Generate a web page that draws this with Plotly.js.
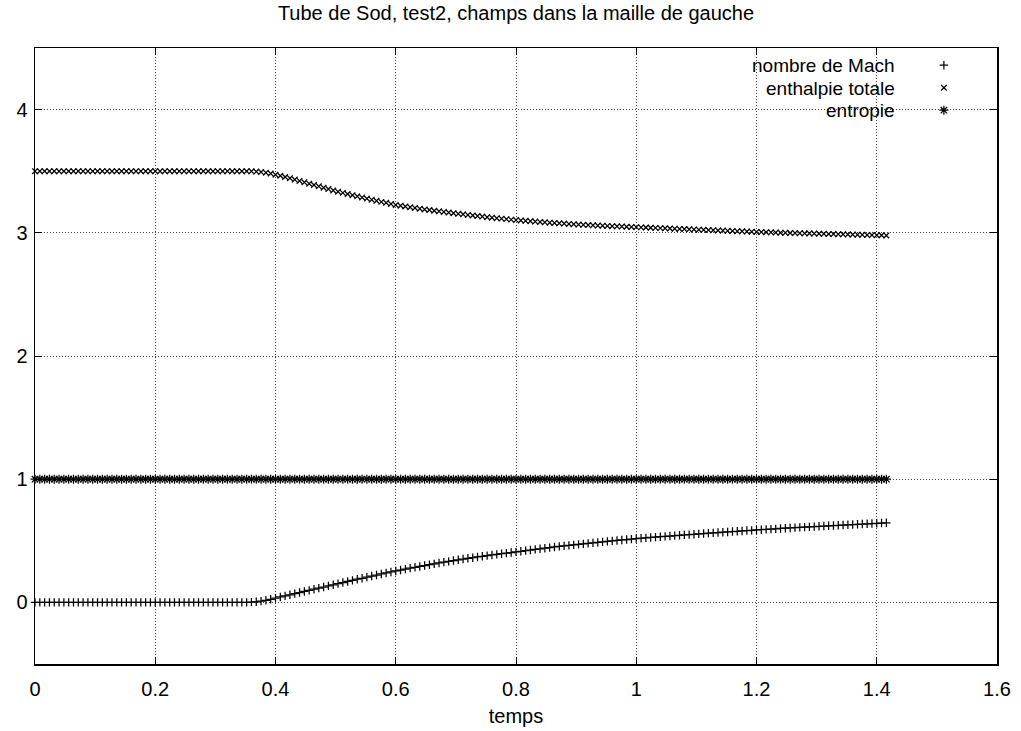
<!DOCTYPE html>
<html>
<head>
<meta charset="utf-8">
<script src="https://cdn.plot.ly/plotly-3.0.1.min.js"></script>
<style>html,body{margin:0;padding:0;background:#fff;}#chart{width:1021px;height:731px;}</style>
</head>
<body>
<div id="chart"></div>
<script>
// time (temps) samples
const temps = [
0,0.008,0.016,0.024,0.032,0.04,0.048,0.056,0.064,0.072,
0.08,0.088,0.096,0.104,0.112,0.12,0.128,0.136,0.144,0.152,
0.16,0.168,0.176,0.184,0.192,0.2,0.208,0.216,0.224,0.232,
0.24,0.248,0.256,0.264,0.272,0.28,0.288,0.296,0.304,0.312,
0.32,0.328,0.336,0.344,
0.352,0.36,0.368,0.376,0.384,0.392,0.4,
0.408,0.416,0.424,0.432,0.44,0.448,0.456,0.464,0.472,0.48,0.488,0.496,
0.504,0.512,0.52,0.528,0.536,0.544,0.552,0.56,0.568,0.576,0.584,0.592,0.6,
0.608,0.616,0.624,0.632,0.64,0.648,0.656,0.664,0.672,0.68,0.688,0.696,0.704,
0.712,0.72,0.728,0.736,0.744,0.752,0.76,0.768,0.776,0.784,0.792,0.8,
0.808,0.816,0.824,0.832,0.84,0.848,0.856,0.864,0.872,0.88,0.888,0.896,0.904,
0.912,0.92,0.928,0.936,0.944,0.952,0.96,0.968,0.976,0.984,0.992,1,
1.008,1.016,1.024,1.032,1.04,1.048,1.056,1.064,1.072,1.08,1.088,1.096,1.104,
1.112,1.12,1.128,1.136,1.144,1.152,1.16,1.168,1.176,1.184,1.192,1.2,
1.208,1.216,1.224,1.232,1.24,1.248,1.256,1.264,1.272,1.28,1.288,1.296,1.304,
1.312,1.32,1.328,1.336,1.344,1.352,1.36,1.368,1.376,1.384,1.392,1.4,1.408,1.416
];

// nombre de Mach
const mach = [
0,0,0,0,0,0,0,0,0,0,0,
0,0,0,0,0,0,0,0,0,0,0,
0,0,0,0,0,0,0,0,0,0,0,
0,0,0,0,0,0,0,0,0,0,0,
0.000,0.002,0.005,0.010,0.017,0.025,0.035,
0.044,0.053,0.062,0.071,0.080,0.089,0.098,0.107,0.116,0.125,0.134,0.143,
0.152,0.161,0.170,0.179,0.188,0.196,0.205,0.214,0.222,0.231,0.239,0.247,0.255,
0.263,0.270,0.278,0.285,0.292,0.299,0.306,0.313,0.320,0.327,0.333,0.340,0.346,
0.352,0.358,0.363,0.369,0.374,0.380,0.385,0.390,0.395,0.400,0.405,0.410,
0.415,0.420,0.425,0.430,0.435,0.440,0.445,0.450,0.455,0.459,0.463,0.467,0.471,
0.475,0.479,0.483,0.487,0.491,0.495,0.499,0.503,0.507,0.510,0.514,0.518,
0.521,0.524,0.527,0.530,0.533,0.536,0.539,0.542,0.545,0.548,0.550,0.553,0.556,
0.559,0.562,0.564,0.567,0.570,0.572,0.575,0.577,0.580,0.583,0.585,0.588,
0.590,0.593,0.595,0.597,0.600,0.602,0.604,0.607,0.609,0.611,0.613,0.615,0.618,
0.620,0.622,0.624,0.626,0.628,0.630,0.632,0.634,0.636,0.638,0.640,0.642,0.644,0.646
];

// enthalpie totale
const enthalpie = [
3.5,3.5,3.5,3.5,3.5,3.5,3.5,3.5,3.5,3.5,3.5,
3.5,3.5,3.5,3.5,3.5,3.5,3.5,3.5,3.5,3.5,3.5,
3.5,3.5,3.5,3.5,3.5,3.5,3.5,3.5,3.5,3.5,3.5,
3.5,3.5,3.5,3.5,3.5,3.5,3.5,3.5,3.5,3.5,3.5,
3.500,3.499,3.497,3.493,3.488,3.481,3.472,
3.463,3.453,3.443,3.432,3.421,3.410,3.399,3.388,3.377,3.366,3.355,3.344,
3.334,3.324,3.315,3.305,3.296,3.287,3.278,3.269,3.260,3.251,3.243,3.234,3.226,
3.220,3.214,3.208,3.202,3.196,3.190,3.185,3.179,3.174,3.169,3.164,3.159,3.154,
3.150,3.145,3.141,3.136,3.132,3.127,3.123,3.119,3.115,3.111,3.107,3.103,
3.100,3.097,3.094,3.091,3.088,3.085,3.082,3.080,3.077,3.075,3.072,3.070,3.067,
3.065,3.063,3.061,3.059,3.058,3.056,3.054,3.053,3.051,3.049,3.048,3.046,
3.044,3.043,3.041,3.040,3.038,3.036,3.035,3.033,3.031,3.030,3.028,3.027,3.025,
3.024,3.022,3.021,3.019,3.018,3.016,3.015,3.013,3.012,3.010,3.009,3.007,
3.006,3.005,3.004,3.002,3.001,3.000,2.999,2.998,2.997,2.996,2.995,2.994,2.993,
2.992,2.991,2.990,2.989,2.988,2.987,2.986,2.985,2.984,2.983,2.982,2.981,2.980,2.979
];

// entropie
const entropie = [
1,1,1,1,1,1,1,1,1,1,
1,1,1,1,1,1,1,1,1,1,
1,1,1,1,1,1,1,1,1,1,
1,1,1,1,1,1,1,1,1,1,
1,1,1,1,1,1,1,1,1,1,
1,1,1,1,1,1,1,1,1,1,
1,1,1,1,1,1,1,1,1,1,
1,1,1,1,1,1,1,1,1,1,
1,1,1,1,1,1,1,1,1,1,
1,1,1,1,1,1,1,1,1,1,
1,1,1,1,1,1,1,1,1,1,
1,1,1,1,1,1,1,1,1,1,
1,1,1,1,1,1,1,1,1,1,
1,1,1,1,1,1,1,1,1,1,
1,1,1,1,1,1,1,1,1,1,
1,1,1,1,1,1,1,1,1,1,
1,1,1,1,1,1,1,1,1,1,
1,1,1,1,1,1,1,1
];

const seriesNames = ['nombre de Mach', 'enthalpie totale', 'entropie'];
const xTicks = [0, 0.2, 0.4, 0.6, 0.8, 1, 1.2, 1.4, 1.6];
const xTickText = ['0', '0.2', '0.4', '0.6', '0.8', '1', '1.2', '1.4', '1.6'];
const yTicks = [0, 1, 2, 3, 4];
const yTickText = ['0', '1', '2', '3', '4'];

const FONT = 'Liberation Sans, Arial, Helvetica, sans-serif';

const styles = [
  { symbol: 'cross-thin', size: 6 },
  { symbol: 'x-thin', size: 5.6 },
  { symbol: 'asterisk', size: 7.5 }
];
const seriesY = [mach, enthalpie, entropie];

function markerOf(i) {
  return { symbol: styles[i].symbol, size: styles[i].size, color: '#000',
           line: { color: '#000', width: 1.25 } };
}

// data traces
const data = seriesY.map((y, i) => ({
  type: 'scatter', mode: 'markers', x: temps, y: y, name: seriesNames[i],
  cliponaxis: false, showlegend: false, marker: markerOf(i)
}));
// legend key samples (symbols only; labels are drawn as annotations, gnuplot style)
seriesY.forEach((y, i) => data.push({
  type: 'scatter', mode: 'markers', x: [null], y: [null], name: '',
  showlegend: true, marker: markerOf(i), hoverinfo: 'skip'
}));

// legend geometry in paper coords (plot area 35..997 x, 48..664 y)
const textRight = 0.896;
const rowY = [0.971, 0.935, 0.899];

const annotations = seriesNames.map((n, i) => ({
  xref: 'paper', yref: 'paper', x: textRight, y: rowY[i],
  xanchor: 'right', yanchor: 'middle', showarrow: false,
  text: n, font: { family: FONT, size: 19, color: '#000' }
}));

const axisCommon = {
  showline: true, linecolor: '#000', linewidth: 1.5, mirror: 'ticks',
  ticks: 'inside', ticklen: 7, tickwidth: 1, tickcolor: '#000',
  showgrid: true, gridcolor: '#444', gridwidth: 1, griddash: '1px,2px',
  zeroline: false,
  tickfont: { family: FONT, size: 20, color: '#000' }
};

const layout = {
  width: 1021, height: 731,
  margin: { l: 35, r: 24, t: 48, b: 67, autoexpand: false },
  paper_bgcolor: '#fff', plot_bgcolor: '#fff',
  font: { family: FONT, size: 20, color: '#000' },
  title: {
    text: 'Tube de Sod, test2, champs dans la maille de gauche',
    font: { family: FONT, size: 20, color: '#000' },
    x: 0.5, xref: 'paper', xanchor: 'center',
    y: 1 - 13 / 731, yref: 'container', yanchor: 'middle'
  },
  xaxis: Object.assign({}, axisCommon, {
    range: [0, 1.6], tickmode: 'array', tickvals: xTicks, ticktext: xTickText,
    ticklabelstandoff: 6,
    title: { text: 'temps', font: { family: FONT, size: 20, color: '#000' }, standoff: 10 },
    automargin: false
  }),
  yaxis: Object.assign({}, axisCommon, {
    range: [-0.5, 4.5], tickmode: 'array', tickvals: yTicks, ticktext: yTickText,
    ticklabelstandoff: 2,
    automargin: false
  }),
  showlegend: true,
  legend: {
    x: 0.924, y: 0.9984, xanchor: 'left', yanchor: 'top',
    bgcolor: 'rgba(0,0,0,0)', borderwidth: 0,
    font: { family: FONT, size: 15, color: '#000' },
    itemwidth: 30, tracegroupgap: 0
  },
  shapes: [{
    type: 'rect', xref: 'paper', yref: 'paper', layer: 'between',
    x0: 0.670, x1: 0.993, y0: 0.886, y1: 0.985,
    fillcolor: '#fff', line: { width: 0 }
  }],
  annotations: annotations
};

Plotly.newPlot('chart', data, layout, { displayModeBar: false, staticPlot: true });
</script>
</body>
</html>
